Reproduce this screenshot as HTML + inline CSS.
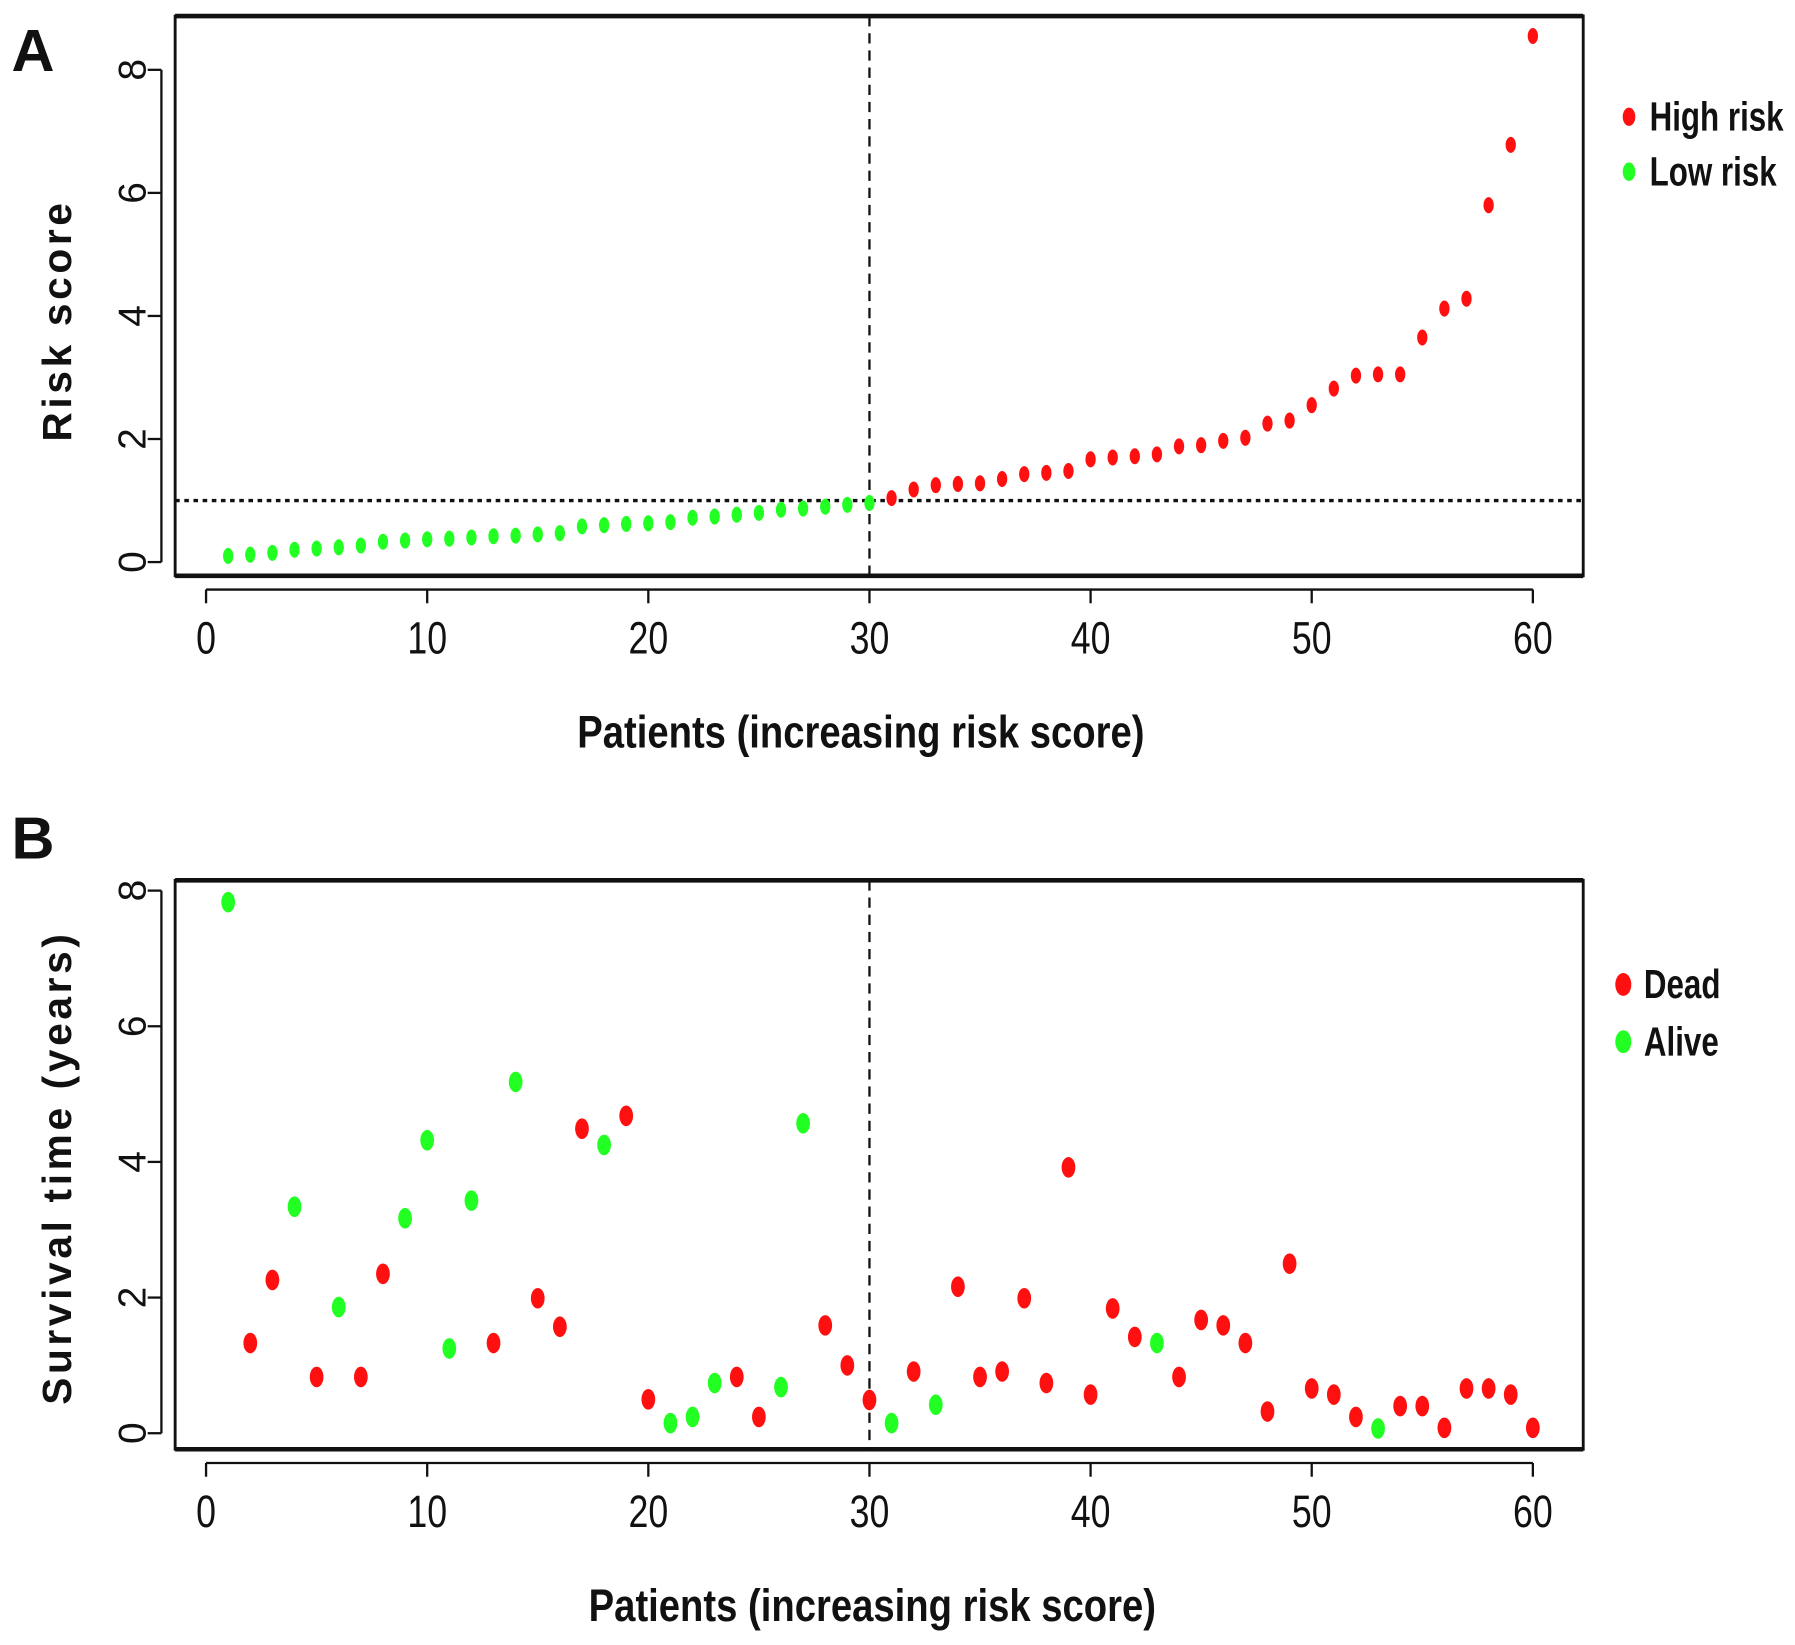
<!DOCTYPE html>
<html><head><meta charset="utf-8"><style>
html,body{margin:0;padding:0;background:#fff;}
svg{display:block;}
text{font-family:"Liberation Sans",sans-serif;fill:#111;}
</style></head><body>
<svg id="chart" width="1795" height="1645" viewBox="0 0 1568 1437" preserveAspectRatio="none" xmlns="http://www.w3.org/2000/svg"></svg>
<script>
const patients = Array.from({length:60},(_,i)=>i+1);
const riskScores = [0.1,0.12,0.15,0.2,0.22,0.24,0.27,0.33,0.35,0.37,0.38,0.4,0.42,0.43,0.45,0.47,0.58,0.6,0.62,0.63,0.65,0.72,0.74,0.77,0.8,0.85,0.87,0.9,0.93,0.96,
1.04,1.18,1.25,1.27,1.28,1.35,1.43,1.45,1.48,1.67,1.7,1.72,1.75,1.88,1.9,1.97,2.02,2.25,2.3,2.55,2.82,3.03,3.05,3.05,3.65,4.12,4.28,5.8,6.78,8.55];
const survivalYears = [7.83,1.33,2.26,3.34,0.83,1.86,0.83,2.35,3.17,4.32,1.25,3.43,1.33,5.18,1.99,1.57,4.49,4.25,4.68,0.5,0.15,0.24,0.74,0.83,0.24,0.68,4.57,1.59,1.0,0.49,
0.15,0.91,0.42,2.16,0.83,0.91,1.99,0.74,3.92,0.57,1.84,1.42,1.33,0.83,1.67,1.59,1.33,0.32,2.5,0.66,0.57,0.24,0.07,0.4,0.4,0.08,0.66,0.66,0.57,0.08];
const status = [0,1,1,0,1,0,1,1,0,0,0,0,1,0,1,1,1,0,1,1,0,0,0,1,1,0,0,1,1,1,
0,1,0,1,1,1,1,1,1,1,1,1,0,1,1,1,1,1,1,1,1,1,0,1,1,1,1,1,1,1]; // 1 = dead
const xTicks = [0,10,20,30,40,50,60];
const yTicks = [0,2,4,6,8];
const cutoffScore = 1;
const cutoffPatient = 30;

const NS="http://www.w3.org/2000/svg";
const svg=document.getElementById('chart');
function mk(tag,attrs,parent){const e=document.createElementNS(NS,tag);for(const k in attrs)e.setAttribute(k,attrs[k]);(parent||svg).appendChild(e);return e;}
const xs = v => 180 + v*(1339-180)/60;

function panel(cfg){
  const g=mk('g',{});
  
  
  const ys = v => cfg.y0 - v*cfg.py;
  const lab=mk('text',{x:10,y:cfg.letterY,'font-size':52,'font-weight':'bold'},g);lab.textContent=cfg.letter;
  
  
  const fr=mk('rect',{x:153,y:cfg.top,width:1230,height:cfg.bottom-cfg.top,fill:'none',stroke:'#111','stroke-width':2.5},g);
  
  
  mk('line',{x1:153,x2:1383,y1:cfg.top,y2:cfg.top,stroke:'#111','stroke-width':4},g);
  mk('line',{x1:153,x2:1383,y1:cfg.bottom,y2:cfg.bottom,stroke:'#111','stroke-width':4},g);
  const xa=mk('g',{},g);
  
  
  mk('line',{x1:xs(0),x2:xs(60),y1:cfg.bottom+12,y2:cfg.bottom+12,stroke:'#111','stroke-width':2},xa);
  xTicks.forEach(t=>{
    mk('line',{x1:xs(t),x2:xs(t),y1:cfg.bottom+12,y2:cfg.bottom+24,stroke:'#111','stroke-width':2},xa);
    const tx=mk('text',{x:0,y:0,'font-size':40,'text-anchor':'middle',transform:`translate(${xs(t)},${cfg.bottom+68}) scale(0.78,1)`},xa);
    tx.textContent=t;
    
    
  });
  const xt=mk('text',{x:0,y:0,'font-size':40,'font-weight':'bold','text-anchor':'middle',transform:`translate(${cfg.xTitleX},${cfg.xTitleY}) scale(0.835,1)`},g);
  xt.textContent='Patients (increasing risk score)';
  
  
  const ya=mk('g',{},g);
  
  
  mk('line',{x1:141,x2:141,y1:ys(0),y2:ys(8),stroke:'#111','stroke-width':2},ya);
  yTicks.forEach(t=>{
    mk('line',{x1:129,x2:141,y1:ys(t),y2:ys(t),stroke:'#111','stroke-width':2},ya);
    const tx=mk('text',{x:0,y:0,'font-size':34,'text-anchor':'middle',transform:`translate(127,${ys(t)}) rotate(-90)`},ya);
    tx.textContent=t;
    
    
  });
  const yt=mk('text',{x:0,y:0,'font-size':35.5,'font-weight':'bold','text-anchor':'middle','letter-spacing':3.2,transform:`translate(62,${cfg.yTitleY}) rotate(-90)`},g);
  yt.textContent=cfg.yTitle;
  
  
  const vl=mk('line',{x1:xs(cutoffPatient),x2:xs(cutoffPatient),y1:cfg.top,y2:cfg.bottom,stroke:'#111','stroke-width':2,'stroke-dasharray':'9,6'},g);
  
  
  if(cfg.hline){
    const hl=mk('line',{x1:153,x2:1383,y1:ys(cutoffScore),y2:ys(cutoffScore),stroke:'#111','stroke-width':3,'stroke-dasharray':'4,4'},g);
    
    
  }
  patients.forEach((p,i)=>{
    const c=mk('ellipse',{cx:xs(p),cy:ys(cfg.values[i]),rx:cfg.rx,ry:cfg.ry,fill:cfg.color(i)},g);
    
    
  });
  cfg.legend.forEach((L,k)=>{
    const lg=mk('g',{},g);
    
    
    const y=cfg.legY+k*cfg.legGap;
    mk('ellipse',{cx:cfg.legX,cy:y,rx:cfg.rx+1,ry:cfg.ry+1,fill:L[1]},lg);
    const t=mk('text',{x:0,y:0,'font-size':36,'font-weight':'bold',transform:`translate(${cfg.legX+18},${y+12}) scale(0.76,1)`},lg);
    t.textContent=L[0];
  });
}
panel({name:'risk-score-panel',letter:'A',letterY:62,top:14,bottom:503,y0:491,py:(491-61)/8,
  values:riskScores,color:i=>riskScores[i]>cutoffScore?'#ff1010':'#22ff22',rx:4.5,ry:7,hline:true,
  xTitleX:752,xTitleY:653,yTitle:'Risk score',yTitleY:280,
  legend:[['High risk','#ff1010'],['Low risk','#22ff22']],legX:1423,legY:102,legGap:48});
panel({name:'survival-panel',letter:'B',letterY:750,top:769,bottom:1266,y0:1252,py:(1252-778)/8,
  values:survivalYears,color:i=>status[i]?'#ff1010':'#22ff22',rx:6,ry:9,hline:false,
  xTitleX:762,xTitleY:1416,yTitle:'Survival time (years)',yTitleY:1020,
  legend:[['Dead','#ff1010'],['Alive','#22ff22']],legX:1418,legY:860,legGap:50});
</script>
</body></html>
